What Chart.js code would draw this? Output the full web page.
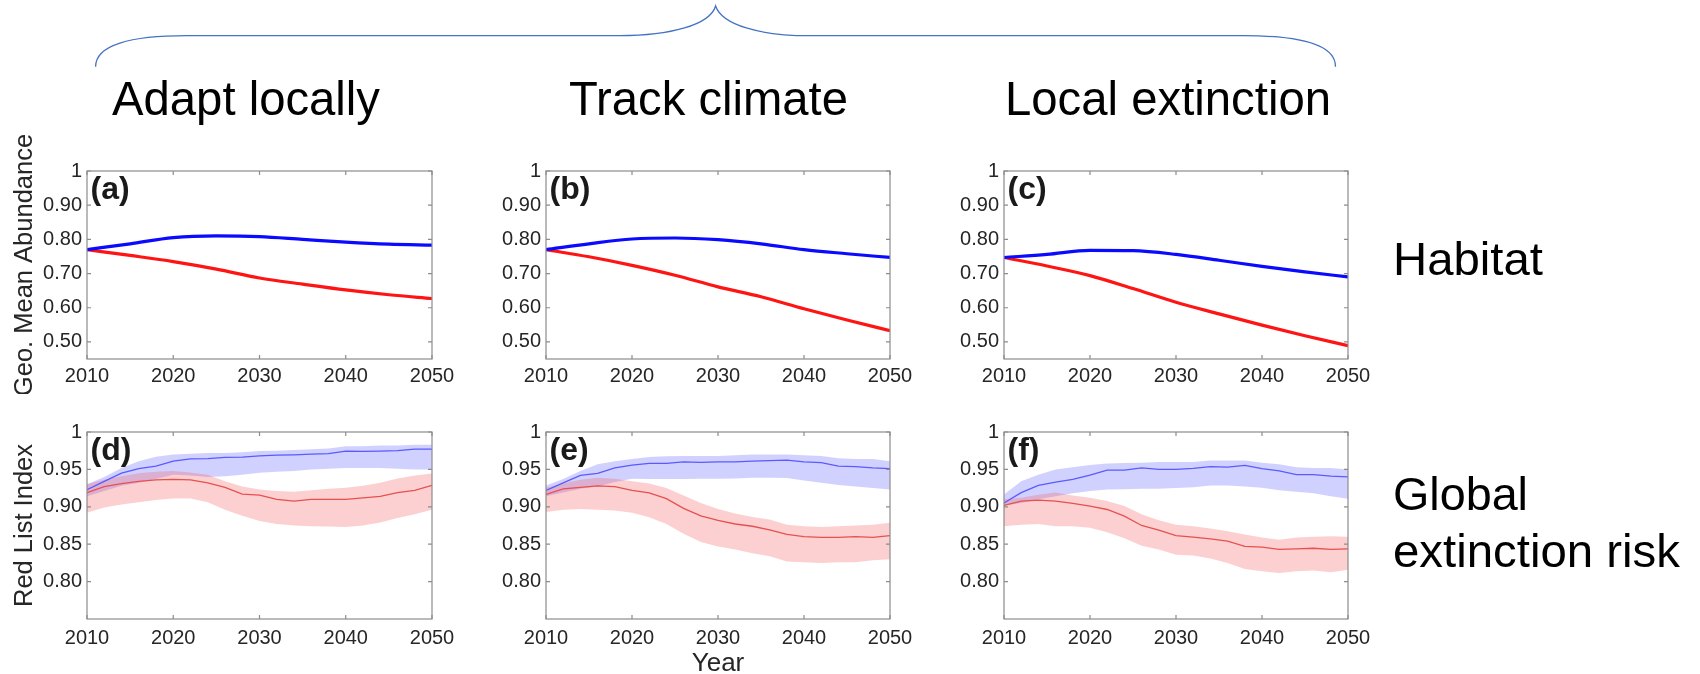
<!DOCTYPE html>
<html>
<head>
<meta charset="utf-8">
<script src="https://cdn.jsdelivr.net/npm/chart.js@4.4.1/dist/chart.umd.min.js"></script>
<style>
  html, body { margin: 0; padding: 0; background: #fff; }
  #fig { position: relative; width: 1700px; height: 674px; overflow: hidden; background: #fff; }
  #fig canvas { position: absolute; }
  #overlay { position: absolute; left: 0; top: 0; }
  #overlay text { font-family: "Liberation Sans", Arial, Helvetica, sans-serif; fill: #000; }
</style>
</head>
<body>
<div id="fig">
  <canvas id="pa" width="470" height="284" style="left:0px;top:110px"></canvas>
  <canvas id="pb" width="450" height="284" style="left:470px;top:110px"></canvas>
  <canvas id="pc" width="460" height="284" style="left:920px;top:110px"></canvas>
  <canvas id="pd" width="470" height="279" style="left:0px;top:395px"></canvas>
  <canvas id="pe" width="450" height="279" style="left:470px;top:395px"></canvas>
  <canvas id="pf" width="460" height="279" style="left:920px;top:395px"></canvas>
  <svg id="overlay" width="1700" height="674">
    <path d="M95.6,66.7 C95.6,45 130,35.7 187,35.7 L620,35.7 C670,35.7 710,25 715.6,6 C722,25 760,35.7 809.4,35.7 L1243,35.7 C1300,35.7 1335.5,45 1335.5,66.7"
          fill="none" stroke="#4472C4" stroke-width="1.3"/>
    <g id="titles"></g>
  </svg>
</div>
<script>
// ---- axis ticks ----
const X_TICKS = [2010, 2020, 2030, 2040, 2050];
const HAB_TICKS = [0.5, 0.6, 0.7, 0.8, 0.9, 1];
const RLI_TICKS = [0.8, 0.85, 0.9, 0.95, 1];

// ---- text ----
const COLUMN_TITLES = ['Adapt locally', 'Track climate', 'Local extinction'];
const ROW_LABELS = ['Habitat', 'Global', 'extinction risk'];
const PANEL_LETTERS = ['(a)', '(b)', '(c)', '(d)', '(e)', '(f)'];

// ---- habitat: geometric mean abundance ----
const YEARS_HAB = [2010, 2015, 2020, 2025, 2030, 2035, 2040, 2045, 2050];
const habBlueA = [0.770, 0.787, 0.805, 0.810, 0.808, 0.800, 0.792, 0.786, 0.783];
const habRedA  = [0.770, 0.753, 0.735, 0.713, 0.687, 0.669, 0.652, 0.638, 0.627];
const habBlueB = [0.770, 0.787, 0.801, 0.804, 0.799, 0.787, 0.770, 0.758, 0.747];
const habRedB  = [0.770, 0.749, 0.724, 0.695, 0.661, 0.632, 0.597, 0.564, 0.533];
const habBlueC = [0.747, 0.756, 0.768, 0.767, 0.756, 0.739, 0.721, 0.705, 0.690];
const habRedC  = [0.747, 0.722, 0.694, 0.656, 0.616, 0.582, 0.549, 0.518, 0.489];

// ---- global extinction risk: Red List Index, mean with band ----
const YEARS_RLI = [2010, 2012, 2014, 2016, 2018, 2020, 2022, 2024, 2026, 2028, 2030,
                   2032, 2034, 2036, 2038, 2040, 2042, 2044, 2046, 2048, 2050];

const rliBlueD   = [.923,.934,.945,.951,.9545,.961,.964,.9645,.966,.9665,.968,.969,.9695,.9705,.971,.9745,.974,.9745,.975,.977,.977];
const rliBlueHiD = [.930,.940,.952,.961,.967,.970,.971,.972,.972,.973,.9745,.975,.976,.977,.978,.981,.981,.982,.982,.983,.983];
const rliBlueLoD = [.914,.921,.928,.932,.937,.943,.942,.940,.941,.943,.9455,.947,.948,.950,.951,.952,.952,.952,.951,.950,.950];
const rliRedD    = [.919,.927,.931,.934,.936,.9366,.936,.932,.926,.917,.9156,.910,.9076,.910,.910,.910,.912,.914,.919,.922,.9286];
const rliRedHiD  = [.930,.936,.941,.945,.947,.948,.946,.943,.934,.927,.923,.921,.920,.922,.924,.9255,.928,.932,.938,.942,.9446];
const rliRedLoD  = [.892,.899,.903,.906,.909,.911,.911,.906,.896,.888,.881,.877,.875,.874,.8735,.873,.875,.879,.885,.890,.896];

const rliBlueE   = [.922,.932,.942,.9446,.952,.9558,.958,.958,.960,.9595,.960,.960,.961,.9616,.9625,.960,.959,.9545,.9536,.952,.951];
const rliBlueHiE = [.9286,.937,.948,.957,.961,.964,.9665,.9675,.968,.968,.968,.969,.970,.970,.970,.969,.968,.965,.964,.964,.961];
const rliBlueLoE = [.914,.919,.924,.927,.933,.9375,.937,.937,.937,.9375,.9375,.938,.939,.939,.9384,.935,.932,.929,.927,.925,.923];
const rliRedE    = [.9165,.924,.926,.928,.927,.922,.9185,.911,.898,.888,.882,.877,.874,.869,.863,.860,.859,.859,.860,.859,.8616];
const rliRedHiE  = [.9254,.931,.936,.939,.9375,.934,.931,.925,.915,.905,.897,.891,.8865,.883,.876,.874,.873,.874,.875,.876,.8786];
const rliRedLoE  = [.893,.896,.897,.896,.895,.892,.886,.877,.864,.853,.847,.843,.838,.834,.827,.826,.825,.826,.826,.8286,.830];

const rliBlueF   = [.905,.919,.9286,.933,.9366,.9424,.949,.949,.952,.950,.950,.9513,.9536,.953,.9554,.951,.948,.943,.943,.941,.940];
const rliBlueHiF = [.9165,.934,.943,.950,.953,.956,.958,.9585,.959,.960,.960,.960,.962,.962,.962,.959,.957,.953,.952,.952,.950];
const rliBlueLoF = [.9018,.905,.910,.914,.918,.921,.923,.9235,.924,.924,.925,.926,.9286,.9286,.927,.9254,.922,.920,.918,.914,.9107];
const rliRedF    = [.9018,.9076,.909,.9076,.9045,.901,.8964,.8875,.875,.8688,.8616,.8594,.857,.854,.847,.846,.843,.8437,.8446,.843,.8437];
const rliRedHiF  = [.910,.912,.916,.919,.915,.912,.9076,.901,.890,.882,.876,.874,.871,.8674,.863,.859,.856,.859,.860,.8607,.860];
const rliRedLoF  = [.874,.876,.877,.874,.874,.872,.866,.858,.848,.843,.836,.835,.831,.825,.817,.814,.8116,.814,.815,.8125,.816];

// ---- styling ----
const FONT = '"Liberation Sans", Arial, Helvetica, sans-serif';
Chart.defaults.font.family = FONT;
Chart.defaults.color = '#262626';

const HAB_BLUE = '#0a0aff';
const HAB_RED = '#ff1414';
const RLI_BLUE = '#5a5aff';
const RLI_RED = '#e85050';
const BAND_BLUE = 'rgba(90, 90, 255, 0.28)';
const BAND_RED = 'rgba(245, 80, 80, 0.27)';
const TICK_SIZE = 20;

// Box around the axes with inward tick marks on all four sides, plus panel letter
const framePlugin = {
  id: 'matlabFrame',
  afterDatasetsDraw(chart, args, opts) {
    const { ctx, chartArea: a, scales: { x, y } } = chart;
    ctx.save();
    ctx.strokeStyle = '#8c8c8c';
    ctx.lineWidth = 1.2;
    ctx.strokeRect(a.left, a.top, a.right - a.left, a.bottom - a.top);
    const L = 4;
    ctx.beginPath();
    x.ticks.forEach(t => {
      const px = x.getPixelForValue(t.value);
      ctx.moveTo(px, a.bottom); ctx.lineTo(px, a.bottom - L);
      ctx.moveTo(px, a.top); ctx.lineTo(px, a.top + L);
    });
    y.ticks.forEach(t => {
      const py = y.getPixelForValue(t.value);
      ctx.moveTo(a.left, py); ctx.lineTo(a.left + L, py);
      ctx.moveTo(a.right, py); ctx.lineTo(a.right - L, py);
    });
    ctx.stroke();
    ctx.fillStyle = '#1a1a1a';
    ctx.font = 'bold 32px ' + FONT;
    ctx.textAlign = 'left';
    ctx.textBaseline = 'alphabetic';
    ctx.fillText(opts.letter, a.left + 3.5, a.top + 28);
    ctx.restore();
  }
};

function pts(xs, ys) { return xs.map((x, i) => ({ x: x, y: ys[i] })); }

function makeOptions(p) {
  return {
    responsive: false,
    animation: false,
    devicePixelRatio: 1,
    layout: { padding: { top: p.padTop, right: p.padRight, left: 0, bottom: 0 } },
    plugins: {
      legend: { display: false },
      tooltip: { enabled: false },
      matlabFrame: { letter: p.letter }
    },
    scales: {
      x: {
        type: 'linear', min: 2010, max: 2050,
        grid: { display: false, drawTicks: false },
        border: { display: false },
        afterBuildTicks: s => { s.ticks = X_TICKS.map(v => ({ value: v })); },
        afterFit: s => { s.height = p.xHeight; },
        ticks: { padding: p.xPad, autoSkip: false, maxRotation: 0, minRotation: 0,
                 font: { size: TICK_SIZE }, color: '#262626', callback: v => String(v) },
        title: p.xTitle
          ? { display: true, text: p.xTitle, color: '#262626', font: { size: 26, lineHeight: 0.8 }, padding: { top: 0, bottom: 0 } }
          : { display: false }
      },
      y: {
        type: 'linear', min: p.yMin, max: 1,
        grid: { display: false, drawTicks: false },
        border: { display: false },
        afterBuildTicks: s => { s.ticks = p.yTicks.map(v => ({ value: v })); },
        afterFit: s => { s.width = p.yWidth; },
        ticks: { padding: 5, font: { size: TICK_SIZE }, color: '#262626',
                 callback: v => (v === 1 ? '1' : v.toFixed(2)) },
        title: p.yTitle
          ? { display: true, text: p.yTitle, color: '#262626', font: { size: 25.5 }, padding: { top: 9.5, bottom: 0 } }
          : { display: false }
      }
    }
  };
}

function habitatChart(id, p, blue, red) {
  const line = (vals, color) => ({
    data: pts(YEARS_HAB, vals), borderColor: color, borderWidth: 3.2,
    pointRadius: 0, fill: false, cubicInterpolationMode: 'monotone'
  });
  new Chart(document.getElementById(id), {
    type: 'line',
    data: { datasets: [line(blue, HAB_BLUE), line(red, HAB_RED)] },
    options: makeOptions(Object.assign({ yMin: 0.45, yTicks: HAB_TICKS, padTop: 61, xHeight: 35, xPad: 5.5 }, p)),
    plugins: [framePlugin]
  });
}

function rliChart(id, p, s) {
  const line = (vals, color) => ({
    data: pts(YEARS_RLI, vals), borderColor: color, borderWidth: 1.3,
    pointRadius: 0, fill: false, tension: 0
  });
  const edge = (vals, fill, bg) => ({
    data: pts(YEARS_RLI, vals), borderWidth: 0, borderColor: 'rgba(0,0,0,0)',
    backgroundColor: bg, pointRadius: 0, fill: fill, tension: 0
  });
  new Chart(document.getElementById(id), {
    type: 'line',
    data: {
      datasets: [
        line(s.blue, RLI_BLUE),
        line(s.red, RLI_RED),
        edge(s.redHi, '+1', BAND_RED),
        edge(s.redLo, false, BAND_RED),
        edge(s.blueHi, '+1', BAND_BLUE),
        edge(s.blueLo, false, BAND_BLUE)
      ]
    },
    options: makeOptions(Object.assign({ yMin: 0.75, yTicks: RLI_TICKS, padTop: 37, xHeight: 55, xPad: 7 }, p)),
    plugins: [framePlugin]
  });
}

habitatChart('pa', { letter: PANEL_LETTERS[0], yWidth: 87, padRight: 38, yTitle: 'Geo. Mean Abundance' }, habBlueA, habRedA);
habitatChart('pb', { letter: PANEL_LETTERS[1], yWidth: 76, padRight: 30 }, habBlueB, habRedB);
habitatChart('pc', { letter: PANEL_LETTERS[2], yWidth: 84, padRight: 32 }, habBlueC, habRedC);

rliChart('pd', { letter: PANEL_LETTERS[3], yWidth: 87, padRight: 38, yTitle: 'Red List Index' },
  { blue: rliBlueD, blueHi: rliBlueHiD, blueLo: rliBlueLoD, red: rliRedD, redHi: rliRedHiD, redLo: rliRedLoD });
rliChart('pe', { letter: PANEL_LETTERS[4], yWidth: 76, padRight: 30, xTitle: 'Year' },
  { blue: rliBlueE, blueHi: rliBlueHiE, blueLo: rliBlueLoE, red: rliRedE, redHi: rliRedHiE, redLo: rliRedLoE });
rliChart('pf', { letter: PANEL_LETTERS[5], yWidth: 84, padRight: 32 },
  { blue: rliBlueF, blueHi: rliBlueHiF, blueLo: rliBlueLoF, red: rliRedF, redHi: rliRedHiF, redLo: rliRedLoF });

// Column titles and row labels as SVG text
const SVGNS = 'http://www.w3.org/2000/svg';
const titleLayer = document.getElementById('titles');
function addText(str, x, y, size, len) {
  const t = document.createElementNS(SVGNS, 'text');
  t.setAttribute('x', x);
  t.setAttribute('y', y);
  t.setAttribute('font-size', size);
  t.setAttribute('textLength', len);
  t.setAttribute('lengthAdjust', 'spacingAndGlyphs');
  t.textContent = str;
  titleLayer.appendChild(t);
}
addText(COLUMN_TITLES[0], 112, 115, 48, 268);
addText(COLUMN_TITLES[1], 569, 115, 48, 279);
addText(COLUMN_TITLES[2], 1005, 115, 48, 326);
addText(ROW_LABELS[0], 1393, 275, 47, 150);
addText(ROW_LABELS[1], 1393, 510, 47, 135);
addText(ROW_LABELS[2], 1393, 567, 47, 287);
</script>
</body>
</html>
